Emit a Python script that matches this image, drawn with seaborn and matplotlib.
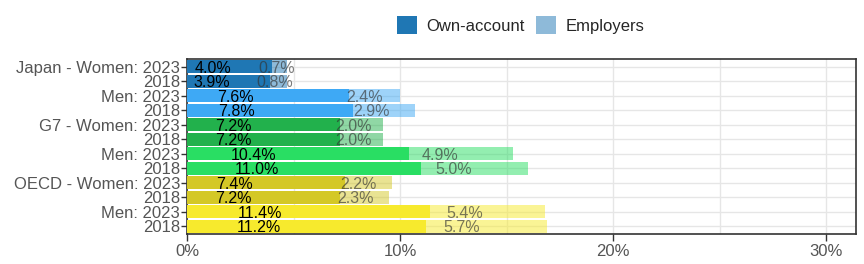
import pandas as pd
import matplotlib
matplotlib.use("Agg")
import matplotlib.pyplot as plt
from matplotlib.patches import Patch
import seaborn as sns

# data, top row first
row_labels = ["Japan - Women: 2023", "2018", "Men: 2023", "2018",
              "G7 - Women: 2023", "2018", "Men: 2023", "2018",
              "OECD - Women: 2023", "2018", "Men: 2023", "2018"]
own_account = [4.0, 3.9, 7.6, 7.8, 7.2, 7.2, 10.4, 11.0, 7.4, 7.2, 11.4, 11.2]
employers = [0.7, 0.8, 2.4, 2.9, 2.0, 2.0, 4.9, 5.0, 2.2, 2.3, 5.4, 5.7]
group_colors = ["#1f77b4", "#1f77b4", "#3ea9f5", "#3ea9f5",
                "#22b14c", "#22b14c", "#29de63", "#29de63",
                "#d4c826", "#d4c826", "#f7ea2d", "#f7ea2d"]

df = pd.DataFrame({"row": [f"r{i}" for i in range(len(row_labels))],
                   "own": own_account, "emp": employers})
df["total"] = df["own"] + df["emp"]
pal = dict(zip(df["row"], group_colors))

sns.set_style("white")
plt.rcParams["font.family"] = ["Liberation Sans", "DejaVu Sans"]

fig = plt.figure(figsize=(8.64, 2.64), dpi=100)
ax = fig.add_axes([187/864, 1 - 234/264, 669/864, 175/264])

# total bar (light) behind, own-account bar on top
sns.barplot(data=df, x="total", y="row", hue="row", palette=pal, alpha=0.5,
            saturation=1, width=0.9, legend=False, ax=ax, zorder=2, linewidth=0)
sns.barplot(data=df, x="own", y="row", hue="row", palette=pal,
            saturation=1, width=0.9, legend=False, ax=ax, zorder=3, linewidth=0)

for i, (o, e) in enumerate(zip(own_account, employers)):
    ax.text(o * 0.3, i, f"{o:.1f}%", ha="center", va="center_baseline",
            fontsize=11.5, color="black", zorder=5)
    ax.text(o + e * 0.3, i, f"{e:.1f}%", ha="center", va="center_baseline",
            fontsize=11.5, color="#333333", alpha=0.65, zorder=5)

ax.set_xlim(0, 31.4)
ax.set_ylim(11.55, -0.55)
ax.set_xticks([0, 10, 20, 30])
ax.set_xticklabels(["0%", "10%", "20%", "30%"])
ax.set_xticks([5, 15, 25], minor=True)
ax.set_yticks(range(len(row_labels)))
ax.set_yticklabels(row_labels)
ax.set_xlabel("")
ax.set_ylabel("")

ax.set_axisbelow(True)
ax.grid(True, which="both", axis="x", color="#e6e6e6", linewidth=1)
ax.grid(True, which="major", axis="y", color="#e6e6e6", linewidth=1)
ax.tick_params(axis="x", which="major", length=5, width=1, color="#333333",
               labelsize=12, labelcolor="#555555", pad=2, bottom=True)
ax.tick_params(axis="x", which="minor", length=0)
ax.tick_params(axis="y", length=4, width=1, color="#333333",
               labelsize=12, labelcolor="#555555", pad=1, left=True)
for s in ax.spines.values():
    s.set_visible(True)
    s.set_color("#333333")
    s.set_linewidth(1.2)

handles = [Patch(facecolor="#1f77b4", edgecolor="none", label="Own-account"),
           Patch(facecolor="#1f77b4", alpha=0.5, edgecolor="none", label="Employers")]
fig.legend(handles=handles, loc="center", bbox_to_anchor=(0.6024, 0.905),
           ncol=2, frameon=False, fontsize=12, handlelength=1.2, handleheight=1.2,
           handletextpad=0.55, columnspacing=0.7, borderpad=0)

fig.savefig("out.png", dpi=100)
